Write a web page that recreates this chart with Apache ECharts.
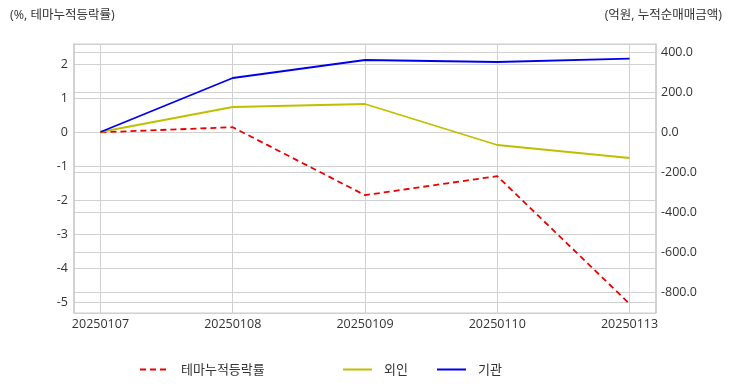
<!DOCTYPE html>
<html><head><meta charset="utf-8">
<script src="https://cdn.jsdelivr.net/npm/echarts@6/dist/echarts.min.js"></script>
<style>html,body{margin:0;padding:0;background:#fff}#c{width:732px;height:392px}</style>
</head><body><div id="c"></div>
<script>
const categories = ['20250107','20250108','20250109','20250110','20250113'];
const themeReturn = [0, 0.15, -1.85, -1.29, -5.05];
const foreign = [0, 125, 140, -65, -130];
const institution = [0, 270, 360, 350, 367];
const leftTitle = '(%, 테마누적등락률)';
const rightTitle = '(억원, 누적순매매금액)';

const font = "'Open Sans', 'Noto Sans CJK KR', sans-serif";
const kfont = "'Noto Sans CJK KR', sans-serif";
const idx = categories.map((c,i)=>i);
const toPts = arr => arr.map((v,i)=>[i,v]);
const chart = echarts.init(document.getElementById('c'));
const lab = {color:'#333', fontSize:12.5, fontFamily:font};
const legText = {fontSize:13, color:'#333', fontFamily:kfont, padding:[0,0,0,7]};
chart.setOption({
  animation:false,
  textStyle:{fontFamily:font},
  title:[
    {text:leftTitle, left:5, top:4, textStyle:{fontSize:12.5, fontWeight:'normal', color:'#333', fontFamily:font}},
    {text:rightTitle, right:5, top:4, textStyle:{fontSize:12.5, fontWeight:'normal', color:'#333', fontFamily:font}}
  ],
  grid:{left:74, right:76, top:44, bottom:79, show:true, borderColor:'#ccc', borderWidth:1},
  xAxis:{type:'value', min:-0.2, max:4.2,
    axisLine:{show:false}, axisTick:{show:false, customValues:idx},
    splitLine:{show:true, lineStyle:{color:'#d0d0d0'}},
    axisLabel:Object.assign({margin:5, customValues:idx, formatter:v=>categories[Math.round(v)]||''}, lab)
  },
  yAxis:[
    {type:'value', min:-5.32, max:2.6, splitNumber:7, position:'left',
      axisLine:{show:true, onZero:false, lineStyle:{color:'#ccc', width:1.5}}, axisTick:{show:false},
      splitLine:{show:true, lineStyle:{color:'#d0d0d0'}},
      axisLabel:Object.assign({margin:6, showMinLabel:false, showMaxLabel:false, formatter:v=>Number.isInteger(v)?String(v):''}, lab)
    },
    {type:'value', min:-905, max:440, splitNumber:7, position:'right',
      axisLine:{show:true, onZero:false, lineStyle:{color:'#ccc', width:1.5}}, axisTick:{show:false},
      splitLine:{show:true, lineStyle:{color:'#d0d0d0'}},
      axisLabel:Object.assign({margin:5, showMinLabel:false, showMaxLabel:false, formatter:v=>(Math.abs(v%200)<1e-6)?v.toFixed(1):''}, lab)
    }
  ],
  legend:[
    {data:['테마누적등락률'], left:134, top:358, itemWidth:29, itemHeight:10, itemStyle:{opacity:0}, textStyle:legText},
    {data:['외인'], left:337, top:358, itemWidth:29, itemHeight:10, itemStyle:{opacity:0}, textStyle:legText},
    {data:['기관'], left:431, top:358, itemWidth:29, itemHeight:10, itemStyle:{opacity:0}, textStyle:legText}
  ],
  series:[
    {name:'테마누적등락률', type:'line', yAxisIndex:0, data:toPts(themeReturn), symbol:'none',
      lineStyle:{color:'#ee0000', width:1.8, type:[6,4]}, itemStyle:{color:'#ee0000'}},
    {name:'외인', type:'line', yAxisIndex:1, data:toPts(foreign), symbol:'none',
      lineStyle:{color:'#bfbf00', width:1.8}, itemStyle:{color:'#bfbf00'}},
    {name:'기관', type:'line', yAxisIndex:1, data:toPts(institution), symbol:'none',
      lineStyle:{color:'#0000ee', width:1.8}, itemStyle:{color:'#0000ee'}}
  ]
});
</script></body></html>
